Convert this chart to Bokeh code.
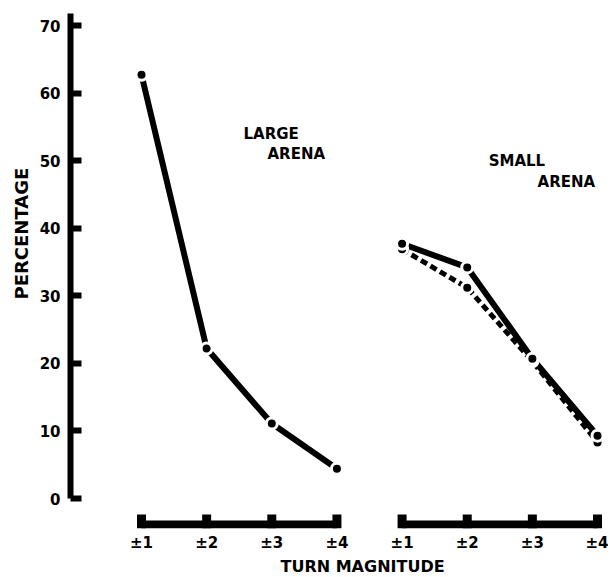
from bokeh.plotting import figure
from bokeh.models import FixedTicker, Range1d, Title
from bokeh.core.properties import value
from bokeh.embed import file_html
from bokeh.resources import INLINE

# ---------------- data ----------------
large_turns = [1, 2, 3, 4]
small_turns = [5, 6, 7, 8]
turn_labels = ["±1", "±2", "±3", "±4"]
large_arena = [62.7, 22.2, 11.1, 4.4]
small_arena_solid = [37.7, 34.2, 20.7, 9.3]
small_arena_dashed = [36.9, 31.2, 20.3, 8.3]
y_ticks = [0, 10, 20, 30, 40, 50, 60, 70]
arena_labels = ["LARGE", "ARENA", "SMALL", "ARENA"]

FONT = "DejaVu Sans"

p = figure(frame_width=536, frame_height=515,
           x_range=Range1d(-0.090, 8.138), y_range=Range1d(-4.44, 71.78),
           output_backend="svg", toolbar_location=None,
           min_border_left=70, min_border_right=2,
           min_border_top=13, min_border_bottom=0)
p.outline_line_color = None
p.xgrid.visible = False
p.ygrid.visible = False
p.background_fill_color = "white"
p.border_fill_color = "white"

# ---- y axis ----
ya = p.yaxis[0]
ya.ticker = FixedTicker(ticks=y_ticks)
ya.bounds = (0, 71.78)
ya.axis_line_width = 6
ya.axis_line_color = "black"
ya.major_tick_in = 11
ya.major_tick_out = 0
ya.major_tick_line_width = 6
ya.major_tick_line_color = "black"
ya.minor_tick_line_color = None
ya.major_label_standoff = 10
ya.major_label_text_font = FONT
ya.major_label_text_font_size = "15px"
ya.major_label_text_font_style = "bold"
ya.major_label_text_color = "black"

# ---- x axis (labels only; bars drawn below) ----
xa = p.xaxis[0]
all_turns = large_turns + small_turns
xa.ticker = FixedTicker(ticks=all_turns)
xa.major_label_overrides = {t: lab for t, lab in zip(all_turns, turn_labels + turn_labels)}
xa.axis_line_color = None
xa.major_tick_line_color = None
xa.minor_tick_line_color = None
xa.major_tick_in = 0
xa.major_tick_out = 0
xa.major_label_standoff = 5
xa.major_label_text_font = FONT
xa.major_label_text_font_size = "15px"
xa.major_label_text_font_style = "bold"
xa.major_label_text_color = "black"

p.add_layout(Title(text="TURN MAGNITUDE", align="left", offset=210, standoff=0,
                   text_font=FONT, text_font_size="16px", text_font_style="bold",
                   text_color="black"), "below")
p.add_layout(Title(text="PERCENTAGE", align="left", offset=229, standoff=10,
                   text_font=FONT, text_font_size="18px", text_font_style="bold",
                   text_color="black"), "left")

# ---- the two horizontal scale bars ----
AXIS_Y = -3.85
BLOCK_BOTTOM = -4.44
BLOCK_TOP = -2.37
for xs in (large_turns, small_turns):
    p.segment(x0=[xs[0]], y0=[AXIS_Y], x1=[xs[-1]], y1=[AXIS_Y],
              line_width=8, line_color="black", line_cap="butt")
    p.segment(x0=xs, y0=[BLOCK_BOTTOM] * len(xs), x1=xs, y1=[BLOCK_TOP] * len(xs),
              line_width=9, line_color="black", line_cap="butt")

# ---- data lines ----
p.line(large_turns, large_arena, line_width=6, line_color="black")
p.line(small_turns, small_arena_dashed, line_width=5, line_color="black", line_dash="7 4")
p.line(small_turns, small_arena_solid, line_width=6, line_color="black")
for xs, ys in ((large_turns, large_arena), (small_turns, small_arena_dashed),
               (small_turns, small_arena_solid)):
    p.scatter(xs, ys, size=11, fill_color="black", line_color="white", line_width=3)

# ---- arena labels ----
label_x = [2.566, 2.934, 6.33, 7.08]
label_y = [53.95, 50.95, 50.0, 46.85]
p.text(x=label_x, y=label_y, text=arena_labels, text_font=value(FONT),
       text_font_size="15px", text_font_style="bold", text_color="black",
       text_baseline="alphabetic", text_align="left")

open("out.html", "w").write(file_html(p, INLINE))
